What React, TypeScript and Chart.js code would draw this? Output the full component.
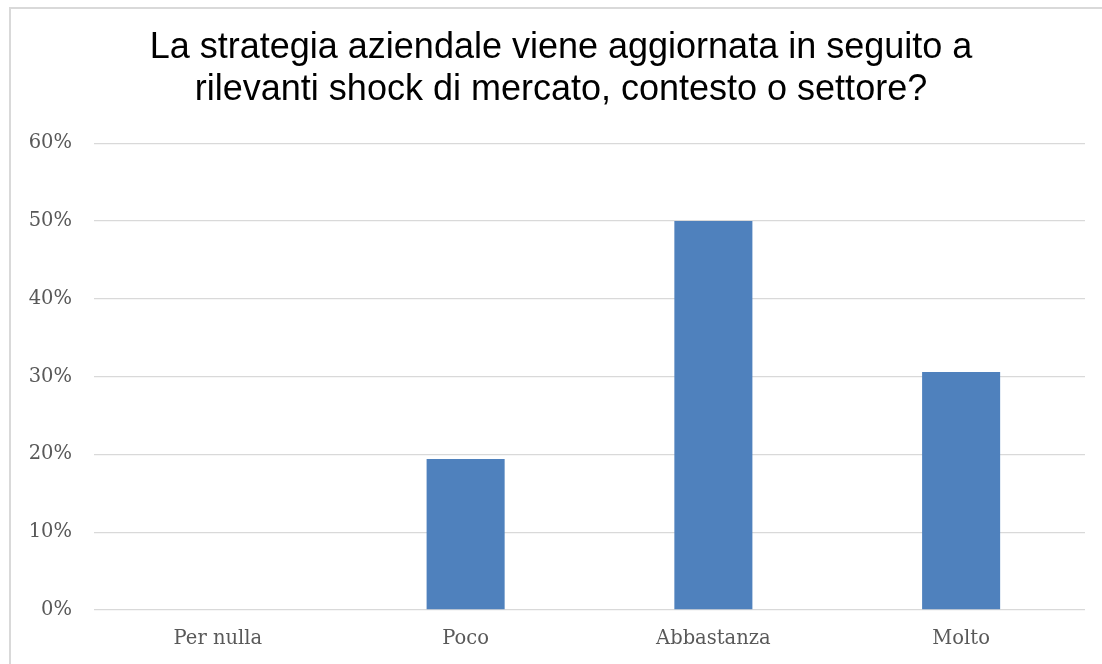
import React, { useEffect, useRef } from "react";
import { Chart, registerables } from "chart.js";

Chart.register(...registerables);

const categories = ["Per nulla", "Poco", "Abbastanza", "Molto"];
const values = [0, 19.4, 50, 30.6];
const yTicks = [0, 10, 20, 30, 40, 50, 60];
const titleLines = [
  "La strategia aziendale viene aggiornata in seguito a",
  "rilevanti shock di mercato, contesto o settore?",
];

export default function App() {
  const ref = useRef<HTMLCanvasElement | null>(null);

  useEffect(() => {
    if (!ref.current) return;
    const chart = new Chart(ref.current, {
      type: "bar",
      data: {
        labels: categories,
        datasets: [
          {
            data: values,
            backgroundColor: "#4F81BD",
            borderWidth: 0,
            categoryPercentage: 1,
            barPercentage: 0.315,
          },
        ],
      },
      options: {
        responsive: false,
        animation: false,
        layout: { padding: { left: 37, right: 17, top: 0, bottom: 13 } },
        plugins: {
          legend: { display: false },
          tooltip: { enabled: false },
          title: {
            display: true,
            text: titleLines,
            color: "#000000",
            font: { family: "'Liberation Sans', Arial, sans-serif", size: 36, weight: "normal", lineHeight: 1.17 },
            padding: { top: 27, bottom: 32 },
          },
        },
        scales: {
          x: {
            afterFit: (axis: any) => {
              axis.height = 41;
            },
            grid: { display: false, drawTicks: false },
            border: { display: false },
            ticks: {
              color: "#595959",
              padding: 17,
              font: { family: "'DejaVu Serif', serif", size: 19.5 },
            },
          },
          y: {
            min: 0,
            max: 60,
            afterFit: (axis: any) => {
              axis.width = 57;
              axis._computeLabelArea = () => undefined;
            },
            afterBuildTicks: (axis: any) => {
              axis.ticks = yTicks.map((v) => ({ value: v }));
            },
            grid: { color: "#d9d9d9", lineWidth: 1.3, drawTicks: false },
            border: { display: false },
            ticks: {
              color: "#595959",
              padding: 22,
              font: { family: "'DejaVu Serif', serif", size: 19.5 },
              callback: (v: any) => `${v}%`,
            },
          },
        },
      },
    });
    return () => chart.destroy();
  }, []);

  return (
    <div
      style={{
        position: "absolute",
        left: 0,
        top: 0,
        width: 1102,
        height: 664,
        overflow: "hidden",
        background: "#ffffff",
      }}
    >
      <canvas
        ref={ref}
        width={1102}
        height={664}
        style={{ position: "absolute", left: 0, top: 0, width: 1102, height: 664 }}
      />
      <div
        style={{
          position: "absolute",
          left: 9,
          top: 7,
          width: 1200,
          height: 800,
          border: "2px solid #d9d9d9",
          pointerEvents: "none",
        }}
      />
    </div>
  );
}
